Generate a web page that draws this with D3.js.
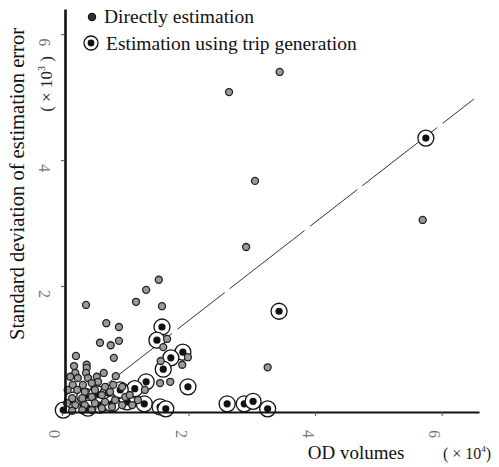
<!DOCTYPE html>
<html>
<head>
<meta charset="utf-8">
<script src="https://cdn.jsdelivr.net/npm/d3@7"></script>
<style>
  body { margin: 0; background: #fff; }
</style>
</head>
<body>
<div id="chart"></div>
<script>
// OD volume (x 10^4) vs standard deviation of estimation error (x 10^3)
const directPts = [
    [2.64, 5.08], [3.44, 5.40], [3.05, 3.67], [2.91, 2.62], [5.70, 3.05], [3.25, 0.71],
    [1.53, 2.10], [1.33, 1.94], [1.17, 1.75], [0.38, 1.70], [1.58, 1.68], [0.70, 1.41],
    [0.90, 1.35], [0.60, 1.10], [0.77, 1.06], [0.90, 1.13], [0.82, 0.86], [0.22, 0.89],
    [0.19, 0.73], [0.39, 0.75], [1.66, 1.16], [1.60, 1.03], [1.99, 0.87], [1.56, 0.81],
    [1.90, 0.75], [1.55, 0.46], [1.71, 0.48], [1.31, 0.35], [0.66, 0.62], [0.85, 0.57],
    [0.39, 0.70], [0.38, 0.62], [0.21, 0.62], [0.13, 0.56], [0.25, 0.54], [0.41, 0.54],
    [0.55, 0.56], [0.57, 0.48], [0.47, 0.46], [0.33, 0.43], [0.17, 0.43], [0.09, 0.35],
    [0.24, 0.35], [0.36, 0.32], [0.52, 0.35], [0.68, 0.40], [0.81, 0.43], [0.95, 0.40],
    [0.76, 0.32], [0.63, 0.27], [0.47, 0.24], [0.32, 0.22], [0.16, 0.22], [0.08, 0.14],
    [0.21, 0.11], [0.36, 0.11], [0.52, 0.14], [0.68, 0.16], [0.84, 0.19], [1.00, 0.24],
    [0.95, 0.11], [0.79, 0.08], [0.63, 0.06], [0.47, 0.03], [0.32, 0.03], [0.16, 0.02],
    [1.07, 0.27], [1.20, 0.19], [1.11, 0.11]
];

const tripGenPts = [
    [5.75, 4.35], [3.43, 1.60], [1.58, 1.35], [1.50, 1.14], [1.91, 0.95], [1.72, 0.86],
    [1.60, 0.68], [1.99, 0.40], [1.33, 0.48], [1.15, 0.37], [1.03, 0.16], [1.30, 0.13],
    [1.55, 0.08], [1.64, 0.05], [2.61, 0.13], [2.88, 0.13], [3.02, 0.17], [3.25, 0.05],
    [0.02, 0.03], [0.17, 0.19], [0.36, 0.25], [0.55, 0.29], [0.73, 0.30], [0.88, 0.25],
    [0.60, 0.11], [0.41, 0.06], [0.79, 0.13], [0.92, 0.35]
];

// fitted line at both ends
const fitLine = [[0.55, 0.32], [6.51, 4.97]];

const xTicks = [0, 2, 4, 6];
const yTicks = [2, 4, 6];
const legendLabels = ["Directly estimation", "Estimation using trip generation"];

const W = 499, H = 467;
const plot = { left: 62, right: 479, top: 9, bottom: 412 };
const FONT = "'Liberation Serif', 'Times New Roman', 'DejaVu Serif', serif";

const svg = d3.select("#chart").append("svg")
    .attr("width", W)
    .attr("height", H)
    .attr("font-family", FONT);

const x = d3.scaleLinear().domain([0, 6.59]).range([plot.left, plot.right]);
const y = d3.scaleLinear().domain([0, 6.4]).range([plot.bottom, plot.top]);

// regression line
svg.append("path")
    .datum(fitLine)
    .attr("fill", "none")
    .attr("stroke", "#333")
    .attr("stroke-width", 1)
    .attr("stroke-dasharray", "95,7,60,6")
    .attr("d", d3.line().x(d => x(d[0])).y(d => y(d[1])));

// trip generation points (ring + dot), drawn below the direct ones
const rings = svg.append("g").selectAll("g")
    .data(tripGenPts)
    .enter().append("g")
    .attr("transform", d => "translate(" + x(d[0]) + "," + y(d[1]) + ")");
rings.append("circle").attr("r", 8).attr("fill", "#fff").attr("stroke", "#111").attr("stroke-width", 1.3);
rings.append("circle").attr("r", 3.6).attr("fill", "#111");

// direct estimation points
svg.append("g").selectAll("circle")
    .data(directPts)
    .enter().append("circle")
    .attr("cx", d => x(d[0]))
    .attr("cy", d => y(d[1]))
    .attr("r", 3.5)
    .attr("fill", "#9a9a9a")
    .attr("stroke", "#222")
    .attr("stroke-width", 1.3);

// axes
const xAxis = svg.append("g")
    .attr("transform", "translate(0," + plot.bottom + ")")
    .call(d3.axisBottom(x).tickValues(xTicks).tickSize(4).tickSizeOuter(0).tickFormat(""));
xAxis.select(".domain").attr("stroke", "#111").attr("stroke-width", 2.2);
xAxis.selectAll(".tick line").attr("stroke", "#555");

const yAxis = svg.append("g")
    .attr("transform", "translate(" + (plot.left + 3) + ",0)")
    .call(d3.axisLeft(y).tickValues(yTicks).tickSize(4).tickSizeOuter(0).tickFormat(""));
yAxis.select(".domain").attr("stroke", "#111").attr("stroke-width", 2.6);
yAxis.selectAll(".tick line").attr("stroke", "#555");

// tick labels (printed sideways in the original)
svg.append("g").selectAll("text")
    .data(xTicks)
    .enter().append("text")
    .attr("transform", d => "translate(" + (x(d) - 7) + ",434) rotate(90)")
    .attr("text-anchor", "middle")
    .attr("dy", "0.35em")
    .attr("font-size", 16)
    .attr("fill", "#777")
    .text(d => d);

svg.append("g").selectAll("text")
    .data(yTicks)
    .enter().append("text")
    .attr("transform", d => "translate(45," + (y(d) + 8) + ") rotate(90)")
    .attr("text-anchor", "middle")
    .attr("dy", "0.35em")
    .attr("font-size", 16)
    .attr("fill", "#777")
    .text(d => d);

// axis titles
svg.append("text")
    .attr("transform", "translate(24,184) rotate(-90)")
    .attr("text-anchor", "middle")
    .attr("font-size", 20.5)
    .attr("fill", "#111")
    .text("Standard deviation of estimation error");

const yUnit = svg.append("text")
    .attr("transform", "translate(52,84) rotate(-90)")
    .attr("text-anchor", "middle")
    .attr("font-size", 17)
    .attr("fill", "#222");
yUnit.append("tspan").text("(  × 10");
yUnit.append("tspan").attr("font-size", 10).attr("dy", -7).text("3");
yUnit.append("tspan").attr("dy", 7).text(" )");

svg.append("text")
    .attr("x", 356)
    .attr("y", 459)
    .attr("text-anchor", "middle")
    .attr("font-size", 19)
    .attr("fill", "#111")
    .text("OD volumes");

const xUnit = svg.append("text")
    .attr("x", 443)
    .attr("y", 459)
    .attr("font-size", 16)
    .attr("fill", "#222");
xUnit.append("tspan").text("( × 10");
xUnit.append("tspan").attr("font-size", 9).attr("dy", -7).text("4");
xUnit.append("tspan").attr("dy", 7).text(")");

// legend
const legend = svg.append("g");
legend.append("circle").attr("cx", 92).attr("cy", 17).attr("r", 3.6)
    .attr("fill", "#333").attr("stroke", "#111").attr("stroke-width", 1.2);
legend.append("circle").attr("cx", 91).attr("cy", 43).attr("r", 7)
    .attr("fill", "#fff").attr("stroke", "#111").attr("stroke-width", 1.3);
legend.append("circle").attr("cx", 91).attr("cy", 43).attr("r", 3.4).attr("fill", "#111");
legend.selectAll("text")
    .data(legendLabels)
    .enter().append("text")
    .attr("x", (d, i) => i === 0 ? 104 : 106)
    .attr("y", (d, i) => 23 + i * 27)
    .attr("font-size", 19.5)
    .attr("fill", "#111")
    .text(d => d);
</script>
</body>
</html>
